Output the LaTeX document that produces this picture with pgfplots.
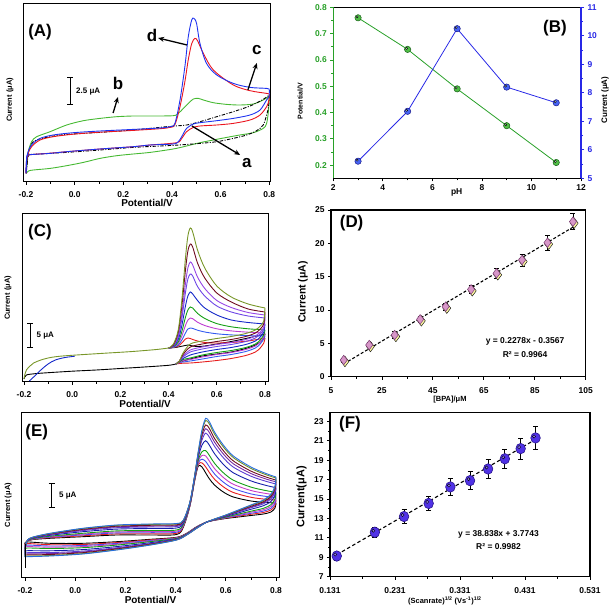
\documentclass[border=0pt]{standalone}
\usepackage{fontspec}
\setmainfont{Liberation Sans}
\usepackage{pgfplots}
\usepackage{pgfplotstable}
\pgfplotsset{compat=1.18}
\usetikzlibrary{arrows.meta}

\definecolor{Ablue}{RGB}{30,50,240}
\definecolor{Ared}{RGB}{235,20,30}
\definecolor{Agreen}{RGB}{70,185,50}
\definecolor{Bgreen}{RGB}{40,160,40}
\definecolor{Bgfill}{RGB}{80,190,70}
\definecolor{Bblue}{RGB}{40,40,230}
\definecolor{Bbfill}{RGB}{70,100,245}
\definecolor{Colive}{RGB}{120,150,40}
\definecolor{Cmaroon}{RGB}{110,10,30}
\definecolor{Cpurple}{RGB}{150,70,230}
\definecolor{Cviolet}{RGB}{110,70,230}
\definecolor{Cblue}{RGB}{20,40,200}
\definecolor{Cgreen}{RGB}{20,160,20}
\definecolor{Cmag}{RGB}{190,60,210}
\definecolor{Cblue2}{RGB}{50,90,240}
\definecolor{Cred}{RGB}{230,30,30}
\definecolor{E1}{RGB}{40,110,220}
\definecolor{E2}{RGB}{110,140,40}
\definecolor{E3}{RGB}{110,10,30}
\definecolor{E4}{RGB}{120,40,160}
\definecolor{E5}{RGB}{90,60,210}
\definecolor{E6}{RGB}{20,30,170}
\definecolor{E7}{RGB}{20,160,20}
\definecolor{E8}{RGB}{200,60,200}
\definecolor{E9}{RGB}{70,80,240}
\definecolor{E10}{RGB}{230,30,30}
\definecolor{Dpink}{RGB}{215,150,200}
\definecolor{Ddraw}{RGB}{120,60,110}
\definecolor{Dglow}{RGB}{250,245,160}
\definecolor{Fball}{RGB}{80,50,230}
\definecolor{Fdraw}{RGB}{40,20,140}

\newcommand{\tk}{\bfseries\fontsize{8.5}{9}\selectfont}

\pgfplotstableread{
x c1 c2 c3 c4 c5 c6 c7 c8 c9 c10
0.40 34 34 34 34 34 34 34 34 34 34
0.42 38 37 36.6 36 35.7 35.2 34.9 34.6 34.5 34.3
0.44 52 50 47 45 42.4 40 38.5 37 36 35
0.455 82 76 68 63.6 56.4 50.4 46 42 39 35.8
0.47 124 112 98.5 89.5 76 64.8 56.5 49 43 36.5
0.48 146 131 114 103 86 72 62 53 44 37
0.49 154 138 120 108 90 75 64 54 43.5 36.5
0.50 150 135 117 106 88 74 63.3 53.6 42.5 36
0.52 132 119 105 95.5 81.5 68.6 59.8 51.8 41 35.5
0.55 114 104 93.5 86 74 63.5 56.5 50 39.5 36
0.60 96 89 81.5 76 67 58.4 53.2 48.2 39 38
0.66 85 80 74.5 70 62 55.2 51.1 47.1 39.5 40.5
0.73 78 73 69.5 66 59.5 53.2 49.8 46.4 41 44
0.80 74 70 67 64 58 52 49 46 44 48
}\Cfwd

\pgfplotstableread{
x c1 c2 c3 c4 c5 c6 c7 c8 c9 c10
0.80 74 70 67 64 58 52 49 46 44 48
0.795 61 58 55 53 50 47 45 43 39 44
0.78 56 53 50 48 45 42 40 38 34 40
0.76 52 49 46 44 41 38 36 34 30 37
0.72 48.5 45.5 42.5 40.5 37.5 34.5 32.5 30.5 26.5 33.5
0.66 45.5 42.5 39.5 37.5 34.5 31.5 29.5 27.5 23.5 30
0.60 43.5 40.5 37.5 35.5 32.5 29.5 27.5 25.5 21.5 28
0.54 41 38 35 33 30 27 25 23 20 26
0.49 38 35 32 30 27 24 22.5 21 19 23
0.46 29 27.5 26 25 23.5 22.5 21.5 20 18.8 21
0.445 21 21 21 20.5 20.5 20 19.5 19.5 18.5 19.5
0.43 18 18 18 18 18 18 18 18 18 18
}\Crev

\pgfplotstableread{
x a b c d e f g h i j k
-0.200 25 25.5 26.6 27.5 28.5 30.3 32.7 34 35.3 36.6 38
-0.198 35 35.2 35.5 35.9 36.2 36.8 37.7 38.1 38.6 39 39.5
-0.190 42 42 41.9 41.8 41.7 41.6 41.4 41.3 41.2 41.1 41
-0.167 45 44.9 44.7 44.5 44.3 44 43.5 43.3 43 42.8 42.5
-0.100 48.7 48.5 48.1 47.8 47.4 46.7 45.8 45.3 44.8 44.3 43.7
0.030 53.7 53.4 52.7 52.1 51.4 50.3 48.7 47.9 47.1 46.2 45.3
0.165 57 56.6 55.8 55.1 54.3 52.9 51.1 50.1 49.1 48.1 47
0.300 58 57.6 56.7 55.9 55 53.5 51.5 50.4 49.3 48.2 47
0.404 58.5 58.1 57.2 56.4 55.5 54 52 50.9 49.8 48.7 47.5
0.431 62 61.7 61.2 60.7 60.1 59.1 57.9 57.2 56.5 55.8 55
0.457 80 79.8 79.5 79.2 78.9 78.4 77.6 77.2 76.8 76.4 76
0.475 105 104.8 104.4 104 103.7 103 102 101.6 101 100.6 100
0.490 130 129.4 128.3 127.3 126.2 124.3 121.7 120.3 118.9 117.5 116
0.505 152 150.5 147.6 145 142 136.8 130.2 126.5 122.8 119.1 115
0.520 163.7 161.5 157.1 153.3 148.9 141.3 131.4 126 120.5 115 109
0.535 160 157.7 153.2 149.2 144.6 136.6 126.4 120.7 115 109.3 103
0.555 150 147.9 143.6 139.9 135.7 128.3 118.7 113.4 108.1 102.8 97
0.590 137 135.1 131.4 128.1 124.3 117.7 109.3 104.6 99.9 95.2 90
0.630 126 124.4 121.1 118.2 114.9 109.2 101.8 97.7 93.6 89.5 85
0.700 115 113.6 110.9 108.5 105.8 101.1 94.9 91.5 88.1 84.7 81
0.760 108.5 107.3 105 103 100.7 96.6 91.4 88.5 85.6 82.7 79.5
0.800 105 104 101.9 100.1 98 94.3 89.7 87.1 84.5 81.9 79
}\Efwd

\pgfplotstableread{
x a b c d e f g h i j k
0.800 105 104 101.9 100.1 98 94.3 89.7 87.1 84.5 81.9 79
0.796 96 95.1 93.4 91.8 90.1 87 83 80.8 78.6 76.4 74
0.780 88 87.3 85.8 84.6 83.1 80.6 77.4 75.6 73.8 72 70
0.750 82 81.4 80.3 79.3 78.2 76.3 73.7 72.3 70.9 69.5 68
0.700 77 76.6 75.7 75 74.2 72.7 70.8 69.8 68.7 67.7 66.5
0.650 72 71.7 71.2 70.7 70.1 69.1 67.9 67.2 66.5 65.8 65
0.600 67 66.9 66.6 66.3 66.1 65.6 64.9 64.6 64.2 63.9 63.5
0.550 62.5 62.5 62.4 62.3 62.2 62.1 61.9 61.8 61.7 61.6 61.5
0.524 60 60 60 60 60 60 60 60 60 60 60
0.484 53.7 53.8 53.9 54 54.1 54.4 54.6 54.8 55 55.1 55.3
0.444 47 47.1 47.2 47.3 47.5 47.7 48 48.2 48.3 48.5 48.7
0.404 42 42.1 42.3 42.5 42.7 43.1 43.6 43.9 44.1 44.4 44.7
0.300 37 37.2 37.7 38.1 38.5 39.3 40.4 40.9 41.5 42.1 42.7
0.165 32 32.3 33 33.6 34.2 35.4 36.9 37.7 38.6 39.4 40.3
0.030 28 28.4 29.3 30 30.9 32.4 34.3 35.4 36.5 37.5 38.7
-0.100 26 26.5 27.5 28.4 29.4 31.2 33.5 34.8 36 37.3 38.7
-0.190 25.3 25.9 27.1 28.1 29.3 31.3 34 35.4 36.9 38.4 40
-0.200 25 25.5 26.6 27.5 28.5 30.3 32.7 34 35.3 36.6 38
}\Erev

\pgfplotstableread{
x y e
10 2.5 0.3
20 4.75 0.4
30 6.25 0.5
40 8.6 0.5
50 10.5 0.5
60 13.1 0.6
70 15.5 0.75
80 17.5 0.9
90 20.1 1.1
100 23.25 1.2
}\Ddata

\pgfplotstableread{
x y e
0.1414 9.13 0.4
0.2000 11.58 0.5
0.2449 13.2 0.75
0.2828 14.55 0.7
0.3162 16.25 0.85
0.3464 16.9 0.95
0.3742 18.1 0.95
0.4000 19.15 1.0
0.4243 20.2 1.1
0.4472 21.3 1.15
}\Fdata

\tikzset{plab/.style={font=\bfseries\fontsize{17}{17}\selectfont}}
\pgfplotsset{
 base/.style={scale only axis, anchor=south west, clip=false, tick align=outside,
   axis line style={line width=1pt}, tick style={line width=0.8pt, black},
   major tick length=3bp, minor tick length=2bp,
   tick label style={font=\tk}},
 cv/.style={base, xtick={-0.2,0,0.2,0.4,0.6,0.8}, xticklabels={-0.2,0.0,0.2,0.4,0.6,0.8},
   minor x tick num=1, xtick pos=left, ytick=\empty, ymin=0,
   xticklabel style={yshift=-3bp},
   x label style={font=\bfseries\fontsize{10}{12}\selectfont, anchor=center},
   y label style={font=\bfseries\fontsize{7.5}{9}\selectfont, anchor=center}},
 cvl/.style={line width=0.9pt, smooth, tension=0.5},
}

\begin{document}
\begin{tikzpicture}
\path[use as bounding box] (0,0) rectangle (614bp,609bp);

% ---------------- A ----------------
\begin{axis}[cv, at={(23.3bp,427.3bp)}, width=247.4bp, height=178.4bp,
  xmin=-0.2111, xmax=0.8058, ymax=178.4,
  xlabel={Potential/V}, ylabel={Current (μA)},
  x label style={at={(axis description cs:0.5,-0.122)}},
  y label style={at={(axis description cs:-0.054,0.458)}}]
\addplot[Agreen, cvl] coordinates {(-0.199,8.3) (-0.192,28.3) (-0.177,40) (-0.156,45) (-0.101,50) (-0.033,56.7) (0.036,61) (0.104,63.3) (0.173,65) (0.241,65.7) (0.310,65.7) (0.405,66) (0.426,68.3) (0.447,73.3) (0.467,78.3) (0.488,82.7) (0.508,83.3) (0.529,81.7) (0.570,79) (0.625,77.3) (0.679,76.7) (0.734,77.7) (0.775,81.7) (0.8,85.7)};
\addplot[Agreen, cvl] coordinates {(0.8,85.7) (0.797,71.7) (0.789,58.3) (0.775,53.3) (0.734,49) (0.679,46.7) (0.625,44.3) (0.570,41.7) (0.515,39) (0.460,35.7) (0.405,32.7) (0.310,29.3) (0.241,27.7) (0.173,26) (0.104,23.3) (0.036,19.3) (-0.033,16) (-0.101,13.3) (-0.170,11.7) (-0.190,10.7) (-0.199,8.3)};
\addplot[black, cvl, dash pattern=on 3.5pt off 1.5pt on 1pt off 1.5pt] coordinates {(-0.199,8.3) (-0.192,26.7) (-0.170,40) (-0.101,45) (-0.033,47.3) (0.104,49.3) (0.241,51.7) (0.378,55) (0.460,56.7) (0.515,60) (0.584,65) (0.652,70) (0.721,75.7) (0.775,82.3) (0.8,86.7)};
\addplot[black, cvl, dash pattern=on 3.5pt off 1.5pt on 1pt off 1.5pt] coordinates {(0.8,86.7) (0.797,75) (0.789,66.7) (0.775,56.7) (0.748,51) (0.707,46.7) (0.652,43.3) (0.584,40) (0.515,38.3) (0.447,37) (0.378,36) (0.241,34.3) (0.104,31.7) (-0.033,29.3) (-0.170,27.3) (-0.190,26.3) (-0.199,8.3)};
\addplot[Ared, cvl] coordinates {(-0.2,8.3) (-0.195,25) (-0.177,35) (-0.142,41.7) (-0.088,45) (-0.005,47.5) (0.104,49.5) (0.241,51.3) (0.351,53) (0.392,54.3) (0.412,57) (0.433,75) (0.453,100) (0.467,122) (0.481,138) (0.494,143.3) (0.505,141) (0.529,128.3) (0.570,111.7) (0.652,96.7) (0.721,91) (0.789,88.3) (0.8,87.7)};
\addplot[Ared, cvl] coordinates {(0.8,87.7) (0.799,81.7) (0.789,75) (0.762,66.7) (0.721,61.7) (0.652,58.3) (0.584,56.7) (0.515,55.7) (0.488,54.3) (0.460,50) (0.440,43.3) (0.419,39) (0.31,36.7) (0.241,35) (0.104,32.7) (-0.033,30) (-0.101,28.5) (-0.17,27.3) (-0.19,26.5) (-0.197,24) (-0.2,8.3)};
\addplot[Ablue, cvl] coordinates {(-0.2,8.3) (-0.195,26.7) (-0.177,36.7) (-0.142,43.3) (-0.088,46.7) (-0.005,49) (0.104,50.7) (0.241,52.3) (0.351,53.7) (0.392,55) (0.412,58.3) (0.433,81.7) (0.453,115) (0.467,145) (0.481,161.7) (0.490,163.3) (0.501,158.3) (0.515,138.3) (0.542,118.3) (0.584,106.7) (0.652,98.3) (0.721,94.3) (0.789,93.3) (0.8,92.3)};
\addplot[Ablue, cvl] coordinates {(0.8,92.3) (0.799,85) (0.789,81.7) (0.762,71.7) (0.721,66.7) (0.652,63.3) (0.584,61) (0.515,59) (0.488,57.7) (0.460,53.3) (0.440,45) (0.426,40) (0.405,37.7) (0.310,36.7) (0.241,35) (0.104,32.7) (-0.033,30) (-0.101,28.3) (-0.170,27.3) (-0.190,26.7) (-0.197,25) (-0.2,8.3)};
\node[plab] at (-0.142,150) {(A)};
\draw[line width=1pt, {Bar[width=6bp]}-{Bar[width=6bp]}] (-0.019,104.7) -- (-0.019,76.7);
\node[font=\bfseries\fontsize{8}{9}\selectfont, anchor=west] at (-0.008,89.7) {2.5 μA};
\node[plab] at (0.318,146.7) {d};
\draw[line width=1.3pt, -{Stealth[length=6bp,width=5bp]}] (0.462,136.7) -- (0.343,143.7);
\node[plab] at (0.749,131.7) {c};
\draw[line width=1.3pt, -{Stealth[length=6bp,width=5bp]}] (0.712,91.7) -- (0.749,118.7);
\node[plab] at (0.178,98.7) {b};
\draw[line width=1.3pt, -{Stealth[length=6bp,width=5bp]}] (0.158,68.7) -- (0.178,84.7);
\node[plab] at (0.708,18.7) {a};
\draw[line width=1.3pt, -{Stealth[length=6bp,width=5bp]}] (0.482,55.7) -- (0.68,26.7);
\end{axis}

% ---------------- B ----------------
\begin{axis}[base, at={(333.3bp,430.7bp)}, width=247.7bp, height=171bp,
  xmin=2, xmax=12, ymin=0.15, ymax=0.8,
  axis x line*=box, axis y line*=left, xtick pos=left,
  xtick={2,4,6,8,10,12}, xticklabels={2,4,6,8,10,12}, minor x tick num=1,
  ytick={0.2,0.3,0.4,0.5,0.6,0.7,0.8}, yticklabels={0.2,0.3,0.4,0.5,0.6,0.7,0.8},
  minor y tick num=1,
  y axis line style={Bgreen, line width=1.6pt}, ytick style={Bgreen}, yticklabel style={Bgreen},
  xlabel={pH}, ylabel={Potential/V},
  x label style={at={(axis description cs:0.498,-0.084)}, anchor=center, font=\bfseries\fontsize{8.5}{10}\selectfont},
  y label style={at={(axis description cs:-0.134,0.45)}, anchor=center, font=\bfseries\fontsize{7}{8}\selectfont}]
\addplot[Bgreen, line width=0.8pt, mark=*, mark size=3.2pt, mark options={fill=Bgfill, draw=Bgreen!60!black, line width=0.5pt}] coordinates {(3,0.76) (5,0.64) (7,0.49) (9,0.35) (11,0.21)};
\addplot[only marks, mark=*, mark size=1.1pt, mark options={fill=white, draw=none, fill opacity=0.75, xshift=-1bp, yshift=1bp}] coordinates {(3,0.76) (5,0.64) (7,0.49) (9,0.35) (11,0.21)};
\node[plab] at (rel axis cs:0.895,0.877) {(B)};
\end{axis}
\begin{axis}[base, at={(333.3bp,430.7bp)}, width=247.7bp, height=171bp,
  xmin=2, xmax=12, ymin=5, ymax=11,
  axis x line=none, axis y line*=right,
  ytick={5,6,7,8,9,10,11}, yticklabels={5,6,7,8,9,10,11}, minor y tick num=1,
  y axis line style={Bblue, line width=1.6pt}, ytick style={Bblue}, yticklabel style={Bblue},
  ylabel={Current (μA)},
  y label style={at={(axis description cs:1.097,0.457)}, anchor=center, font=\bfseries\fontsize{8}{9}\selectfont}]
\addplot[Bblue, line width=0.8pt, mark=*, mark size=3.2pt, mark options={fill=Bbfill, draw=Bblue!60!black, line width=0.5pt}] coordinates {(3,5.6) (5,7.35) (7,10.25) (9,8.2) (11,7.65)};
\addplot[only marks, mark=*, mark size=1.1pt, mark options={fill=white, draw=none, fill opacity=0.75, xshift=-1bp, yshift=1bp}] coordinates {(3,5.6) (5,7.35) (7,10.25) (9,8.2) (11,7.65)};
\end{axis}

% ---------------- C ----------------
\begin{axis}[cv, at={(22bp,227bp)}, width=246.3bp, height=168bp,
  xmin=-0.2083, xmax=0.8137, ymax=168,
  xlabel={Potential/V}, ylabel={Current (μA)},
  x label style={at={(axis description cs:0.5,-0.132)}},
  y label style={at={(axis description cs:-0.057,0.5)}}]
\addplot[black, cvl] coordinates {(0.43,18) (0.40,16.7) (0.30,15) (0.20,13.5) (0.10,12) (0.0,10.8) (-0.1,9.3) (-0.15,8.4) (-0.19,7) (-0.2,3)};
\addplot[black, cvl] table[x=x,y=c10] {\Cfwd};
\addplot[black, cvl] table[x=x,y=c10] {\Crev};
\addplot[Cred, cvl] table[x=x,y=c9] {\Cfwd};
\addplot[Cred, cvl] table[x=x,y=c9] {\Crev};
\addplot[Cblue2, cvl] table[x=x,y=c8] {\Cfwd};
\addplot[Cblue2, cvl] table[x=x,y=c8] {\Crev};
\addplot[Cmag, cvl] table[x=x,y=c7] {\Cfwd};
\addplot[Cmag, cvl] table[x=x,y=c7] {\Crev};
\addplot[Cgreen, cvl] table[x=x,y=c6] {\Cfwd};
\addplot[Cgreen, cvl] table[x=x,y=c6] {\Crev};
\addplot[Cblue, cvl] table[x=x,y=c5] {\Cfwd};
\addplot[Cblue, cvl] table[x=x,y=c5] {\Crev};
\addplot[Cviolet, cvl] table[x=x,y=c4] {\Cfwd};
\addplot[Cviolet, cvl] table[x=x,y=c4] {\Crev};
\addplot[Cpurple, cvl] table[x=x,y=c3] {\Cfwd};
\addplot[Cpurple, cvl] table[x=x,y=c3] {\Crev};
\addplot[Cmaroon, cvl] table[x=x,y=c2] {\Cfwd};
\addplot[Cmaroon, cvl] table[x=x,y=c2] {\Crev};
\addplot[Colive, cvl] table[x=x,y=c1] {\Cfwd};
\addplot[Colive, cvl] table[x=x,y=c1] {\Crev};
\addplot[Colive, cvl] coordinates {(-0.2,3) (-0.196,8) (-0.19,12) (-0.175,16) (-0.16,19) (-0.13,22) (-0.09,24.5) (-0.04,26) (0.05,27.5) (0.15,29) (0.25,30.5) (0.35,32.5) (0.40,34)};
\addplot[Cblue, cvl] coordinates {(-0.178,1) (-0.16,5) (-0.13,12) (-0.1,18) (-0.07,22) (-0.03,24.5) (0.01,25.7)};
\node[plab] at (-0.134,150.3) {(C)};
\draw[line width=1pt, {Bar[width=6bp]}-{Bar[width=6bp]}] (-0.175,58.7) -- (-0.175,33.7);
\node[font=\bfseries\fontsize{8}{9}\selectfont, anchor=west] at (-0.162,46) {5 μA};
\end{axis}

% ---------------- D ----------------
\begin{axis}[base, at={(331bp,232.3bp)}, width=254.7bp, height=166.7bp,
  xmin=5, xmax=105, ymin=0, ymax=25,
  xtick={5,25,45,65,85,105}, xticklabels={5,25,45,65,85,105}, minor x tick num=1,
  ytick={0,5,10,15,20,25}, yticklabels={0,5,10,15,20,25},
  xtick pos=left, ytick pos=left, axis line style={line width=1.2pt},
  xticklabel style={yshift=-4bp},
  xlabel={[BPA]/μM}, ylabel={Current (μA)},
  x label style={at={(axis description cs:0.467,-0.14)}, anchor=center, font=\bfseries\fontsize{7.5}{9}\selectfont},
  y label style={at={(axis description cs:-0.11,0.508)}, anchor=center, font=\bfseries\fontsize{10.5}{12}\selectfont}]
\addplot[black, line width=1.1pt, dash pattern=on 3pt off 2pt] coordinates {(10,1.9213) (100,22.4233)};
\addplot[only marks, mark=diamond*, mark size=5.3pt, mark options={fill=Dglow, draw=none, xshift=1.2bp, yshift=-1.5bp}] table[x=x,y=y] {\Ddata};
\addplot[only marks, mark=diamond*, mark size=4.8pt, mark options={fill=Dpink, draw=Ddraw, line width=0.5pt},
  error bars/.cd, y dir=both, y explicit, error bar style={black, line width=0.8pt},
  error mark options={black, line width=0.8pt, mark size=2.5pt, rotate=90}] table[x=x,y=y,y error=e] {\Ddata};
\node[plab] at (13.1,23) {(D)};
\node[font=\bfseries\fontsize{8.5}{10}\selectfont] at (81.2,5.25) {y = 0.2278x - 0.3567};
\node[font=\bfseries\fontsize{8.5}{10}\selectfont] at (81.2,3.25) {R² = 0.9964};
\end{axis}

% ---------------- E ----------------
\begin{axis}[cv, at={(21.7bp,31.3bp)}, width=257.6bp, height=165bp,
  xmin=-0.2131, xmax=0.8131, ymin=4.3, ymax=169.3,
  xlabel={Potential/V}, ylabel={Current (μA)},
  x label style={at={(axis description cs:0.5,-0.135)}},
  y label style={at={(axis description cs:-0.052,0.44)}}]
\addplot[black, cvl] table[x=x,y=k] {\Efwd};
\addplot[black, cvl] table[x=x,y=k] {\Erev};
\addplot[E10, cvl] table[x=x,y=j] {\Efwd};
\addplot[E10, cvl] table[x=x,y=j] {\Erev};
\addplot[E9, cvl] table[x=x,y=i] {\Efwd};
\addplot[E9, cvl] table[x=x,y=i] {\Erev};
\addplot[E8, cvl] table[x=x,y=h] {\Efwd};
\addplot[E8, cvl] table[x=x,y=h] {\Erev};
\addplot[E7, cvl] table[x=x,y=g] {\Efwd};
\addplot[E7, cvl] table[x=x,y=g] {\Erev};
\addplot[E6, cvl] table[x=x,y=f] {\Efwd};
\addplot[E6, cvl] table[x=x,y=f] {\Erev};
\addplot[E5, cvl] table[x=x,y=e] {\Efwd};
\addplot[E5, cvl] table[x=x,y=e] {\Erev};
\addplot[E4, cvl] table[x=x,y=d] {\Efwd};
\addplot[E4, cvl] table[x=x,y=d] {\Erev};
\addplot[E3, cvl] table[x=x,y=c] {\Efwd};
\addplot[E3, cvl] table[x=x,y=c] {\Erev};
\addplot[E2, cvl] table[x=x,y=b] {\Efwd};
\addplot[E2, cvl] table[x=x,y=b] {\Erev};
\addplot[E1, cvl] table[x=x,y=a] {\Efwd};
\addplot[E1, cvl] table[x=x,y=a] {\Erev};
\addplot[black, line width=0.9pt] coordinates {(-0.2,14) (-0.2,38)};
\node[plab] at (-0.153,150.3) {(E)};
\draw[line width=1pt, {Bar[width=6bp]}-{Bar[width=6bp]}] (-0.094,98.7) -- (-0.094,74.3);
\node[font=\bfseries\fontsize{8}{9}\selectfont, anchor=west] at (-0.078,86) {5 μA};
\end{axis}

% ---------------- F ----------------
\begin{axis}[base, at={(330bp,32.3bp)}, width=260bp, height=164bp,
  xmin=0.131, xmax=0.531, ymin=7, ymax=23.9,
  xtick={0.131,0.231,0.331,0.431,0.531}, xticklabels={0.131,0.231,0.331,0.431,0.531}, minor x tick num=1,
  ytick={7,9,11,13,15,17,19,21,23}, yticklabels={7,9,11,13,15,17,19,21,23}, minor y tick num=1,
  xtick pos=left, ytick pos=left, axis line style={line width=1.2pt},
  xticklabel style={yshift=-4bp},
  xlabel={(Scanrate)\textsuperscript{1/2} (Vs\textsuperscript{-1})\textsuperscript{1/2}}, ylabel={Current(μA)},
  x label style={at={(axis description cs:0.442,-0.145)}, anchor=center, font=\bfseries\fontsize{7.5}{9}\selectfont},
  y label style={at={(axis description cs:-0.109,0.486)}, anchor=center, font=\bfseries\fontsize{11}{12}\selectfont}]
\addplot[black, line width=1.1pt, dash pattern=on 3.5pt off 2.5pt] coordinates {(0.1414,9.266) (0.4472,21.143)};
\addplot[only marks, mark=*, mark size=4.8pt, mark options={fill=Fball, draw=Fdraw, line width=0.6pt, yscale=1.1},
  error bars/.cd, y dir=both, y explicit, error bar style={black, line width=0.8pt},
  error mark options={black, line width=0.8pt, mark size=2.5pt, rotate=90}] table[x=x,y=y,y error=e] {\Fdata};
\addplot[only marks, mark=*, mark size=1.6pt, mark options={fill=white, draw=none, fill opacity=0.35, xshift=-1.5bp, yshift=1.5bp}] table[x=x,y=y] {\Fdata};
\node[plab] at (0.1618,22.7) {(F)};
\node[font=\bfseries\fontsize{8.5}{10}\selectfont] at (0.3902,11.4) {y = 38.838x + 3.7743};
\node[font=\bfseries\fontsize{8.5}{10}\selectfont] at (0.3902,10.1) {R² = 0.9982};
\end{axis}
\end{tikzpicture}
\end{document}
